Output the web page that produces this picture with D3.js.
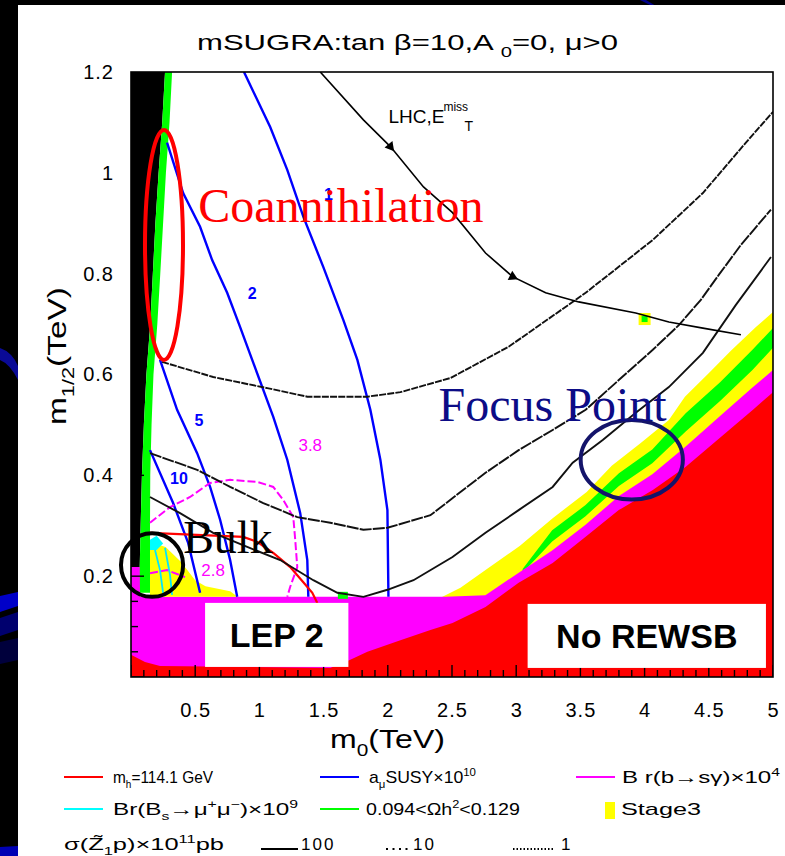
<!DOCTYPE html>
<html>
<head>
<meta charset="utf-8">
<script src="https://cdn.jsdelivr.net/npm/d3@7"></script>
<style>
  body { margin: 0; background: #000; }
  svg { display: block; }
</style>
</head>
<body>
<svg id="chart" width="785" height="856"></svg>
<script>
// ---- data (m0 TeV, m1/2 TeV) ----
const xTicks = [0.5, 1, 1.5, 2, 2.5, 3, 3.5, 4, 4.5, 5];
const yTicks = [0.2, 0.4, 0.6, 0.8, 1, 1.2];

// stau LSP (black) and coannihilation strip (green) edges
const stauEdge = [[0.265,1.2],[0.243,1.1],[0.215,1.0],[0.19,0.9],[0.17,0.8],[0.15,0.7],[0.12,0.6],[0.1,0.5],[0.085,0.4],[0.075,0.3],[0.068,0.218]];
const coannEdge = [[0.32,1.2],[0.30,1.1],[0.272,1.0],[0.25,0.9],[0.228,0.8],[0.205,0.7],[0.175,0.6],[0.16,0.5],[0.15,0.4],[0.148,0.3],[0.148,0.167]];

// focus point bands
const stageOuter = [[2.41,0.157],[2.566,0.177],[2.761,0.212],[3.027,0.26],[3.284,0.315],[3.549,0.367],[3.744,0.419],[3.97,0.464],[4.189,0.51],[4.314,0.556],[4.501,0.603],[4.672,0.647],[4.867,0.694],[5,0.724]];
const relicOuter = [[3.05,0.214],[3.28,0.291],[3.54,0.341],[3.8,0.404],[4.06,0.451],[4.32,0.523],[4.59,0.585],[4.84,0.649],[5,0.692]];
const relicInner = [[5,0.653],[4.84,0.609],[4.59,0.548],[4.32,0.487],[4.06,0.424],[3.8,0.379],[3.54,0.319],[3.28,0.269],[3.05,0.207]];
const bsgTop = [[2.449,0.159],[2.76,0.162],[3.02,0.207],[3.28,0.251],[3.54,0.302],[3.8,0.359],[4.06,0.402],[4.32,0.457],[4.59,0.518],[4.84,0.574],[5,0.609]];
const lepTop = 0.159;
const rewsbTop = [[0,0.044],[0.109,0.03],[0.226,0.022],[1.552,0.018],[1.708,0.034],[1.841,0.05],[2.098,0.073],[2.332,0.093],[2.504,0.107],[2.761,0.139],[3.019,0.187],[3.284,0.226],[3.541,0.278],[3.799,0.331],[4.064,0.371],[4.321,0.417],[4.594,0.476],[4.844,0.53],[5,0.565]];

// bulk region patches
const bulkStage = [[0.148,0.268],[0.27,0.258],[0.39,0.228],[0.5,0.192],[0.58,0.18],[0.772,0.17],[0.83,0.159],[0.148,0.159]];
const bsmmPatch = [[0.148,0.272],[0.2,0.28],[0.25,0.265],[0.2,0.252],[0.148,0.252]];
const bsmmLines = [
  [[0.187,0.252],[0.226,0.212],[0.25,0.167]],
  [[0.265,0.256],[0.304,0.202],[0.32,0.163]]
];
const relicSpots = [[1.65,0.161]];
const stageSpots = [[4.0,0.71]];

// a_mu SUSY x 10^10 contours
const amuLevels = ["1", "2", "5", "10"];
const amuLines = [
  [[0.88,1.2],[1.084,1.091],[1.217,1.006],[1.342,0.913],[1.498,0.813],[1.654,0.708],[1.763,0.629],[1.864,0.53],[1.942,0.431],[1.997,0.331],[2.005,0.159]],
  [[0.281,1.06],[0.406,0.96],[0.538,0.893],[0.632,0.827],[0.749,0.762],[0.85,0.694],[0.944,0.629],[1.108,0.516],[1.217,0.431],[1.318,0.325],[1.373,0.232],[1.381,0.159]],
  [[0.226,0.629],[0.359,0.53],[0.515,0.444],[0.616,0.377],[0.694,0.312],[0.772,0.232],[0.827,0.159]],
  [[0.148,0.45],[0.328,0.345],[0.445,0.266],[0.538,0.167]]
];
const amuLabelAt = [[1.537,0.958],[0.944,0.762],[0.53,0.51],[0.374,0.395]];

// Br(b->s gamma) x 10^4 contours
const bsgLines = [
  [[0.148,0.306],[0.304,0.337],[0.46,0.357],[0.616,0.385],[0.772,0.391],[0.983,0.387],[1.108,0.377],[1.186,0.351],[1.264,0.317],[1.279,0.272],[1.295,0.218],[1.24,0.179],[1.217,0.159]],
  [[0.148,0.206],[0.281,0.212],[0.421,0.198]]
];
const bsgLabels = ["3.8", "2.8"];
const bsgLabelAt = [[1.396,0.46],[0.64,0.212]];

// m_h = 114.1 GeV
const mhLine = [[0.148,0.286],[0.874,0.278],[0.983,0.268],[1.108,0.246],[1.24,0.218],[1.342,0.188],[1.412,0.167],[1.451,0.147]];

// sigma(Z1 p) x 10^11 pb : 1, 10, 100
const sigmaLevels = ["1", "10", "100"];
const sigmaLines = [
  [[0.242,0.625],[0.64,0.595],[1.061,0.573],[1.373,0.556],[1.841,0.556],[2.098,0.565],[2.488,0.593],[2.941,0.655],[3.541,0.762],[4.064,0.867],[4.454,0.96],[4.789,1.06],[5,1.121]],
  [[0.148,0.444],[0.515,0.411],[0.772,0.377],[1.03,0.345],[1.295,0.317],[1.552,0.306],[1.81,0.292],[1.997,0.296],[2.332,0.321],[2.761,0.405],[3.019,0.45],[3.284,0.49],[3.541,0.53],[3.799,0.589],[4.064,0.649],[4.267,0.698],[4.438,0.748],[4.579,0.798],[4.75,0.857],[4.984,0.927]],
  [[0.148,0.357],[0.382,0.325],[0.64,0.286],[0.905,0.258],[1.162,0.232],[1.42,0.192],[1.607,0.167],[1.81,0.159],[1.997,0.173],[2.2,0.192],[2.504,0.238],[2.761,0.286],[3.019,0.331],[3.284,0.377],[3.44,0.425],[3.674,0.47],[3.931,0.524],[4.189,0.575],[4.454,0.643],[4.711,0.738],[4.984,0.833]]
];

// LHC missing-ET reach
const lhcReach = [[1.474,1.2],[1.81,1.105],[2.02,1.052],[2.278,0.972],[2.504,0.921],[2.761,0.841],[2.972,0.794],[3.229,0.762],[3.487,0.744],[3.931,0.722],[4.189,0.704],[4.454,0.692],[4.75,0.679]];
const lhcMarks = [2, 6];

// ---- layout ----
const svg = d3.select("#chart");
const W = 785, H = 856;
const x = d3.scaleLinear().domain([0, 5]).range([131, 773]);
const y = d3.scaleLinear().domain([0, 1.2]).range([677, 72]);
const font = "'Liberation Sans', Arial, Helvetica, sans-serif";
const serif = "'Liberation Serif', 'Times New Roman', serif";

const line = d3.line().x(d => x(d[0])).y(d => y(d[1]));
const area = d3.line().x(d => x(d[0])).y(d => y(d[1])).curve(d3.curveLinearClosed);

// slide background
svg.append("rect").attr("width", W).attr("height", H).attr("fill", "#000");
svg.append("path").attr("d", "M0,348 Q12,352 18,366 L18,380 Q10,364 0,360 Z").attr("fill", "#0a0a96");
svg.append("path").attr("d", "M0,596 L18,592 L18,606 L0,612 Z").attr("fill", "#0000c8");
svg.append("path").attr("d", "M0,618 L18,612 L18,630 L0,636 Z").attr("fill", "#00006e");
svg.append("path").attr("d", "M0,642 L18,638 L18,660 L0,664 Z").attr("fill", "#00003c");
svg.append("path").attr("d", "M0,847 L18,846 L18,856 L0,856 Z").attr("fill", "#0000b4");
svg.append("path").attr("d", "M640,0 L652,6 L656,6 L646,0 Z").attr("fill", "#00008c");
svg.append("rect").attr("x", 18).attr("y", 5).attr("width", W - 18).attr("height", H - 5).attr("fill", "#fff");

svg.append("clipPath").attr("id", "frame")
  .append("rect").attr("x", x(0)).attr("y", y(1.2)).attr("width", x(5) - x(0)).attr("height", y(0) - y(1.2));

const plot = svg.append("g").attr("clip-path", "url(#frame)");

// focus point region: stage3 / relic / b->s gamma + LEP2 / no REWSB
plot.append("path").attr("d", area(stageOuter.concat([[5, 0], [2.41, 0]]))).attr("fill", "#ffff00");
plot.append("path").attr("d", area(relicOuter.concat(relicInner))).attr("fill", "#00ff00");
plot.append("path")
  .attr("d", area([[0, 0.218], [0.07, 0.218], [0.07, lepTop]].concat(bsgTop, [[5, 0], [0, 0]])))
  .attr("fill", "#ff00ff");
plot.append("path").attr("d", area(rewsbTop.concat([[5, 0], [0, 0]]))).attr("fill", "#ff0000");

// bulk region
plot.append("path").attr("d", area(bulkStage)).attr("fill", "#ffff00");
plot.append("path").attr("d", area(bsmmPatch)).attr("fill", "#00ffff");

// stau LSP and coannihilation strip
plot.append("path").attr("d", area([[0, 1.2]].concat(stauEdge, [[0, 0.218]]))).attr("fill", "#000");
plot.append("path")
  .attr("d", area(coannEdge.concat([[0.07, 0.167]], stauEdge.slice().reverse())))
  .attr("fill", "#00ff00");

plot.selectAll("rect.relic").data(relicSpots).join("rect")
  .attr("x", d => x(d[0]) - 5).attr("y", d => y(d[1]) - 4).attr("width", 10).attr("height", 7)
  .attr("fill", "#00ff00");
plot.selectAll("rect.stage").data(stageSpots).join("rect")
  .attr("x", d => x(d[0]) - 6).attr("y", d => y(d[1]) - 6).attr("width", 12).attr("height", 12)
  .attr("fill", "#ffff00");
plot.selectAll("rect.stagein").data(stageSpots).join("rect")
  .attr("x", d => x(d[0]) - 3).attr("y", d => y(d[1]) - 3).attr("width", 6).attr("height", 6)
  .attr("fill", "#00ff00");

// contours
plot.selectAll("path.amu").data(amuLines).join("path")
  .attr("d", line).attr("fill", "none").attr("stroke", "#0000ff").attr("stroke-width", 2.4);

plot.selectAll("path.bsg").data(bsgLines).join("path")
  .attr("d", line).attr("fill", "none").attr("stroke", "#ff00ff")
  .attr("stroke-width", 2).attr("stroke-dasharray", "8,3");

plot.append("path").attr("d", line(mhLine)).attr("fill", "none")
  .attr("stroke", "#ff0000").attr("stroke-width", 2.2);

plot.selectAll("path.bsmm").data(bsmmLines).join("path")
  .attr("d", line).attr("fill", "none").attr("stroke", "#00e5ff").attr("stroke-width", 1.8);

const sigmaDash = { "1": "7,1.2", "10": "12,1.2", "100": null };
plot.selectAll("path.sigma").data(sigmaLines).join("path")
  .attr("d", line).attr("fill", "none").attr("stroke", "#111").attr("stroke-width", 1.9)
  .attr("stroke-dasharray", (d, i) => sigmaDash[sigmaLevels[i]]);

plot.append("path").attr("d", line(lhcReach)).attr("fill", "none")
  .attr("stroke", "#000").attr("stroke-width", 1.6);
plot.selectAll("path.lhcmark").data(lhcMarks).join("path")
  .attr("d", d3.symbol(d3.symbolTriangle, 45))
  .attr("transform", i => {
    const a = lhcReach[i], b = lhcReach[i + 1];
    const ang = Math.atan2(y(b[1]) - y(a[1]), x(b[0]) - x(a[0])) * 180 / Math.PI + 90;
    return `translate(${x(a[0])},${y(a[1])}) rotate(${ang})`;
  })
  .attr("fill", "#000");

// inward ticks
const minorX = d3.range(0, 5.001, 0.1);
const minorY = d3.range(0, 1.2001, 0.05);
plot.selectAll("line.tx").data(minorX).join("line")
  .attr("x1", d => x(d)).attr("x2", d => x(d))
  .attr("y1", y(0)).attr("y2", d => y(0) - (Math.abs(d * 2 - Math.round(d * 2)) < 1e-6 ? 12 : 7))
  .attr("stroke", "#000").attr("stroke-width", 1.4);
plot.selectAll("line.ty").data(minorY).join("line")
  .attr("y1", d => y(d)).attr("y2", d => y(d))
  .attr("x1", x(0)).attr("x2", d => x(0) + (Math.abs(d * 5 - Math.round(d * 5)) < 1e-6 ? 13 : 7))
  .attr("stroke", "#000").attr("stroke-width", 1.4);

svg.append("rect").attr("x", x(0)).attr("y", y(1.2))
  .attr("width", x(5) - x(0)).attr("height", y(0) - y(1.2))
  .attr("fill", "none").attr("stroke", "#000").attr("stroke-width", 1.6);

// tick labels
const fmt = d3.format("~g");
svg.append("g").attr("transform", `translate(0,${y(0)})`)
  .call(d3.axisBottom(x).tickValues(xTicks).tickSize(0).tickPadding(26).tickFormat(fmt))
  .call(g => g.select(".domain").remove())
  .selectAll("text").attr("font-family", font).attr("font-size", 20).attr("letter-spacing", 1).attr("fill", "#000");
svg.append("g").attr("transform", `translate(${x(0)},0)`)
  .call(d3.axisLeft(y).tickValues(yTicks).tickSize(0).tickPadding(17).tickFormat(fmt))
  .call(g => g.select(".domain").remove())
  .selectAll("text").attr("font-family", font).attr("font-size", 20).attr("letter-spacing", 1).attr("fill", "#000");

// rich text helper (sub / sup)
function rich(sel, parts, size) {
  let shift = 0;
  parts.forEach(([s, m]) => {
    const target = m === "sub" ? size * 0.3 : m === "sup" ? -size * 0.4 : 0;
    sel.append("tspan").attr("dy", target - shift)
      .attr("font-size", m ? size * 0.65 : size).text(s);
    shift = target;
  });
  return sel;
}

// titles
const title = svg.append("text").attr("x", 197).attr("y", 50)
  .attr("font-family", font).attr("fill", "#000")
  .attr("textLength", 421).attr("lengthAdjust", "spacingAndGlyphs");
rich(title, [["mSUGRA:tan β=10,A ", ""], ["0", "sub"], ["=0, μ>0", ""]], 22);

const xl = svg.append("text").attr("x", 330).attr("y", 748)
  .attr("font-family", font).attr("fill", "#000")
  .attr("textLength", 115).attr("lengthAdjust", "spacingAndGlyphs");
rich(xl, [["m", ""], ["0", "sub"], ["(TeV)", ""]], 25);

const yl = svg.append("text").attr("transform", "translate(66,425) rotate(-90)")
  .attr("font-family", font).attr("fill", "#000")
  .attr("textLength", 138).attr("lengthAdjust", "spacingAndGlyphs");
rich(yl, [["m", ""], ["1/2", "sub"], ["(TeV)", ""]], 25);

// contour labels
svg.selectAll("text.amu").data(amuLevels).join("text")
  .attr("x", (d, i) => x(amuLabelAt[i][0])).attr("y", (d, i) => y(amuLabelAt[i][1]) + 6)
  .attr("text-anchor", "middle").attr("font-family", font).attr("font-weight", "bold")
  .attr("font-size", 16).attr("fill", "#0000ff").text(d => d);
svg.selectAll("text.bsg").data(bsgLabels).join("text")
  .attr("x", (d, i) => x(bsgLabelAt[i][0])).attr("y", (d, i) => y(bsgLabelAt[i][1]) + 6)
  .attr("text-anchor", "middle").attr("font-family", font)
  .attr("font-size", 17).attr("fill", "#ff00ff").text(d => d);

const lhc = svg.append("text").attr("x", x(2.005)).attr("y", y(1.099))
  .attr("font-family", font).attr("fill", "#000");
lhc.append("tspan").attr("font-size", 19).text("LHC,E");
lhc.append("tspan").attr("font-size", 12).attr("dy", -12).attr("dx", -1).text("miss");
lhc.append("tspan").attr("font-size", 14).attr("x", x(2.005) + 76).attr("dy", 20).text("T");

// region boxes
const boxes = [
  { label: "LEP 2", x0: 0.577, x1: 1.693, y0: 0.02, y1: 0.147 },
  { label: "No REWSB", x0: 3.089, x1: 4.945, y0: 0.018, y1: 0.145 }
];
const bg = svg.selectAll("g.box").data(boxes).join("g");
bg.append("rect")
  .attr("x", d => x(d.x0)).attr("y", d => y(d.y1))
  .attr("width", d => x(d.x1) - x(d.x0)).attr("height", d => y(d.y0) - y(d.y1))
  .attr("fill", "#fff");
bg.append("text")
  .attr("x", d => (x(d.x0) + x(d.x1)) / 2).attr("y", d => (y(d.y0) + y(d.y1)) / 2 + 12)
  .attr("text-anchor", "middle").attr("font-family", font).attr("font-weight", "bold")
  .attr("font-size", 34).attr("fill", "#000").text(d => d.label);

// region annotations
const notes = [
  { label: "Coannihilation", color: "#ff0000", ring: "#ff0000", tx: 0.523, ty: 0.903, size: 48, cx: 0.257, cy: 0.857, rx: 0.148, ry: 0.228 },
  { label: "Focus Point", color: "#0c0c86", ring: "#14146a", tx: 2.395, ty: 0.508, size: 48, cx: 3.9, cy: 0.431, rx: 0.398, ry: 0.079 },
  { label: "Bulk", color: "#000", ring: "#000", tx: 0.406, ty: 0.246, size: 46, cx: 0.164, cy: 0.222, rx: 0.242, ry: 0.063 }
];
svg.selectAll("ellipse.note").data(notes).join("ellipse")
  .attr("cx", d => x(d.cx)).attr("cy", d => y(d.cy))
  .attr("rx", d => x(d.rx) - x(0)).attr("ry", d => y(0) - y(d.ry))
  .attr("fill", "none").attr("stroke", d => d.ring).attr("stroke-width", 4);
svg.selectAll("text.note").data(notes).join("text")
  .attr("x", d => x(d.tx)).attr("y", d => y(d.ty))
  .attr("font-family", serif).attr("font-size", d => d.size).attr("fill", d => d.color)
  .text(d => d.label);

// legend
const legendRows = [
  { color: "#ff0000", lx: 64, tx: 113, ty: 783, w: 100, parts: [["m", ""], ["h", "sub"], ["=114.1 GeV", ""]] },
  { color: "#0000ff", lx: 320, tx: 369, ty: 783, w: 107, parts: [["a", ""], ["μ", "sub"], ["SUSY×10", ""], ["10", "sup"]] },
  { color: "#ff00ff", lx: 576, tx: 622, ty: 783, w: 158, parts: [["B r(b→sγ)×10", ""], ["4", "sup"]] },
  { color: "#00ffff", lx: 64, tx: 113, ty: 815, w: 185, parts: [["Br(B", ""], ["s", "sub"], ["→μ", ""], ["+", "sup"], ["μ", ""], ["−", "sup"], [")×10", ""], ["9", "sup"]] },
  { color: "#00ff00", lx: 320, tx: 366, ty: 815, w: 154, parts: [["0.094<Ωh", ""], ["2", "sup"], ["<0.129", ""]] }
];
const lg = svg.append("g").attr("font-family", font).attr("fill", "#000");
legendRows.forEach(r => {
  lg.append("line").attr("x1", r.lx).attr("x2", r.lx + 39).attr("y1", r.ty - 6).attr("y2", r.ty - 6)
    .attr("stroke", r.color).attr("stroke-width", 2.2);
  const t = lg.append("text").attr("x", r.tx).attr("y", r.ty)
    .attr("textLength", r.w).attr("lengthAdjust", "spacingAndGlyphs");
  rich(t, r.parts, 17);
});
lg.append("rect").attr("x", 605).attr("y", 802).attr("width", 10).attr("height", 17).attr("fill", "#ffff00");
lg.append("text").attr("x", 621).attr("y", 815).attr("font-size", 17)
  .attr("textLength", 80).attr("lengthAdjust", "spacingAndGlyphs").text("Stage3");

const sig = lg.append("text").attr("x", 64).attr("y", 850)
  .attr("textLength", 160).attr("lengthAdjust", "spacingAndGlyphs");
rich(sig, [["σ(Z̃", ""], ["1", "sub"], ["p)×10", ""], ["11", "sup"], ["pb", ""]], 17);

const sigmaKey = [
  { level: "100", lx: 261, lw: 37, tx: 301, dash: null },
  { level: "10", lx: 386, lw: 25, tx: 413, dash: "2,4.5" },
  { level: "1", lx: 513, lw: 42, tx: 561, dash: "1.5,2" }
];
sigmaKey.forEach(k => {
  lg.append("line").attr("x1", k.lx).attr("x2", k.lx + k.lw).attr("y1", 849).attr("y2", 849)
    .attr("stroke", "#000").attr("stroke-width", 1.8).attr("stroke-dasharray", k.dash);
  lg.append("text").attr("x", k.tx).attr("y", 850).attr("font-size", 17)
    .attr("letter-spacing", 2).text(k.level);
});
</script>
</body>
</html>
